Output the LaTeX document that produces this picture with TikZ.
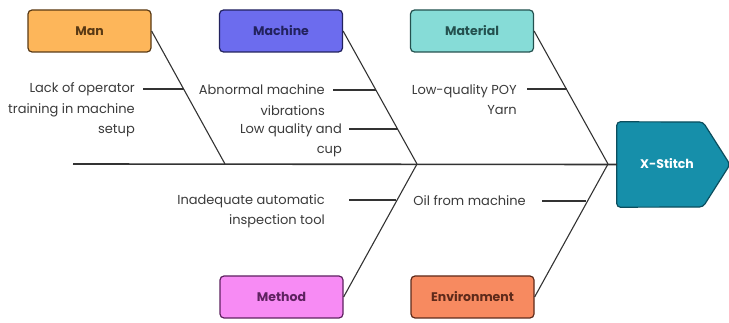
\documentclass[tikz,border=0pt]{standalone}
\usepackage{fontspec}
\setmainfont{Poppins}
\definecolor{manfill}{HTML}{FDB65A}
\definecolor{manline}{HTML}{5A3A14}
\definecolor{macfill}{HTML}{6C6CEE}
\definecolor{macline}{HTML}{22225E}
\definecolor{matfill}{HTML}{86DCD7}
\definecolor{matline}{HTML}{24514F}
\definecolor{metfill}{HTML}{F78BF4}
\definecolor{metline}{HTML}{5E2260}
\definecolor{envfill}{HTML}{F78A60}
\definecolor{envline}{HTML}{5E2A1A}
\definecolor{xsfill}{HTML}{168FAA}
\definecolor{xsline}{HTML}{0C4E5E}
\definecolor{bonecol}{HTML}{333333}
\definecolor{labcol}{HTML}{3A3A3A}
\begin{document}
\begin{tikzpicture}[x=1pt,y=-1pt,
  catbox/.style n args={2}{rectangle, rounded corners=4pt, draw=#2, fill=#1, line width=1.2pt,
    minimum width=123pt, minimum height=42pt, inner sep=0pt,
    font=\fontsize{12.5}{14}\selectfont\bfseries, text=#2},
  bone/.style={draw=bonecol, line width=1.1pt},
  spine/.style={draw=bonecol, line width=1.6pt},
  lab/.style={align=right, anchor=east, inner sep=0pt, text=labcol,
    font=\fontsize{13}{20.5}\selectfont}
]
\useasboundingbox (0,0) rectangle (729,323);

% category boxes
\node[catbox={manfill}{manline}] (man) at (89.5,31) {Man};
\node[catbox={macfill}{macline}] (mac) at (281,31) {Machine};
\node[catbox={matfill}{matline}] (mat) at (472,31) {Material};
\node[catbox={metfill}{metline}] (met) at (281.5,297) {Method};
\node[catbox={envfill}{envline}] (env) at (472.5,297) {Environment};

% effect
\node[rectangle, minimum width=113pt, minimum height=85pt, inner sep=0pt]
  (xs) at (673.5,164.5) {};
\draw[fill=xsfill, draw=xsline, line width=1.2pt, rounded corners=3.5pt]
  (xs.north west) -- (703,122) -- (730,164.5) -- (703,207) -- (xs.south west) -- cycle;
\node[text=white, font=\fontsize{12.5}{14}\selectfont\bfseries] (xst) at (667,164) {X-Stitch};

% spine
\coordinate (s0) at (73,164);
\draw[spine] (s0) -- (xs.west);

% junctions on spine
\coordinate (j1) at (225,164);
\coordinate (j2) at (417,164);
\coordinate (j3) at (608,164);

% main bones
\draw[bone] (man.east) -- (j1);
\draw[bone] (mac.east) -- (j2);
\draw[bone] (mat.east) -- (j3);
\draw[bone] (met.east) -- (j2);
\draw[bone] (env.east) -- (j3);

% causes
\node[lab] (c1) at (135,110) {Lack of operator\\training in machine\\setup};
\coordinate (c1a) at (143,89);  \coordinate (c1b) at (183.5,89);
\draw[bone] (c1a) -- (c1b);

\node[lab] (c2) at (325,100) {Abnormal machine\\vibrations};
\coordinate (c2a) at (333,90);  \coordinate (c2b) at (376,90);
\draw[bone] (c2a) -- (c2b);

\node[lab] (c3) at (342,140) {Low quality and\\cup};
\coordinate (c3a) at (349,129);  \coordinate (c3b) at (397.5,129);
\draw[bone] (c3a) -- (c3b);

\node[lab] (c4) at (517,99.5) {Low-quality POY\\Yarn};
\coordinate (c4a) at (527,89);  \coordinate (c4b) at (567,89);
\draw[bone] (c4a) -- (c4b);

\node[lab] (c5) at (325,211) {Inadequate automatic\\inspection tool};
\coordinate (c5a) at (349,200);  \coordinate (c5b) at (396,200);
\draw[bone] (c5a) -- (c5b);

\node[lab] (c6) at (526,201) {Oil from machine};
\coordinate (c6a) at (542,201);  \coordinate (c6b) at (586,201);
\draw[bone] (c6a) -- (c6b);
\end{tikzpicture}
\end{document}
